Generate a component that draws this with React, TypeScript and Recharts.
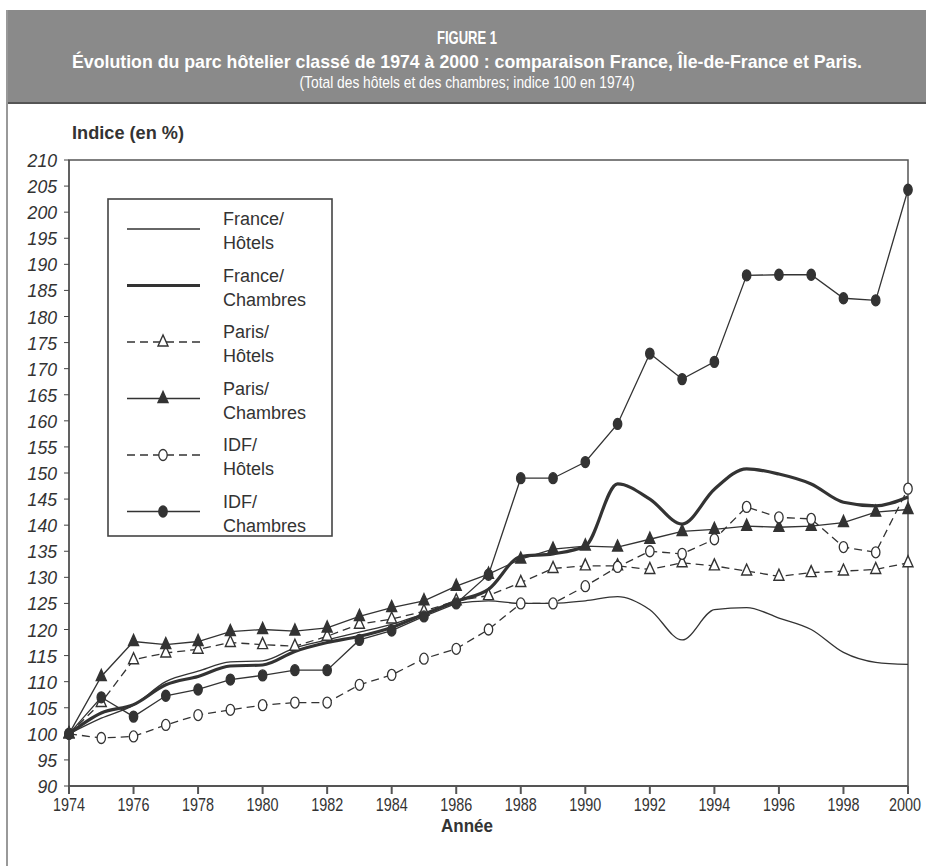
import React from 'react';
import { LineChart, Line, XAxis, YAxis, Legend, ReferenceArea } from 'recharts';

const years = [1974, 1975, 1976, 1977, 1978, 1979, 1980, 1981, 1982, 1983, 1984, 1985, 1986, 1987,
  1988, 1989, 1990, 1991, 1992, 1993, 1994, 1995, 1996, 1997, 1998, 1999, 2000];

const franceHotels = [100, 103, 105.5, 110, 112, 113.8, 114, 116.5, 118, 119.5, 121, 123, 125, 125.5,
  125, 125, 125.5, 126.3, 123.8, 118, 123.8, 124.2, 122.2, 120, 115.6, 113.7, 113.3];
const franceChambres = [100, 104, 105.6, 109.4, 111, 113, 113.2, 115.8, 117.5, 118.7, 120.4, 122.9, 125.4, 127.7,
  134, 134.5, 136, 147.9, 145, 140.2, 146.9, 150.8, 149.8, 147.9, 144.4, 143.7, 145.4];
const parisHotels = [100, 106, 114.2, 115.5, 116.2, 117.5, 117.1, 116.8, 118.7, 121, 122, 123.5, 125.5, 126.5,
  129, 131.7, 132.2, 132.2, 131.5, 132.8, 132.2, 131.2, 130.2, 130.9, 131.2, 131.5, 132.8];
const parisChambres = [100, 111, 117.7, 117.1, 117.7, 119.6, 120, 119.7, 120.3, 122.5, 124.2, 125.5, 128.3, 130.6,
  133.5, 135.4, 136, 135.8, 137.3, 138.8, 139.2, 139.8, 139.6, 139.8, 140.5, 142.5, 143];
const idfHotels = [100, 99.2, 99.5, 101.7, 103.6, 104.6, 105.5, 106, 106, 109.4, 111.3, 114.4, 116.3, 120,
  125, 125, 128.3, 132, 135, 134.5, 137.3, 143.5, 141.5, 141.2, 135.8, 134.8, 147];
const idfChambres = [100, 107, 103.3, 107.3, 108.5, 110.4, 111.2, 112.2, 112.2, 118, 119.8, 122.5, 125, 130.5,
  149, 149, 152.1, 159.4, 172.9, 168, 171.3, 187.9, 188, 188, 183.5, 183.1, 204.3];

const xTicks = [1974, 1976, 1978, 1980, 1982, 1984, 1986, 1988, 1990, 1992, 1994, 1996, 1998, 2000];
const yTicks = [90, 95, 100, 105, 110, 115, 120, 125, 130, 135, 140, 145, 150, 155, 160, 165, 170,
  175, 180, 185, 190, 195, 200, 205, 210];

const data = years.map((year, i) => ({
  year,
  franceHotels: franceHotels[i],
  franceChambres: franceChambres[i],
  parisHotels: parisHotels[i],
  parisChambres: parisChambres[i],
  idfHotels: idfHotels[i],
  idfChambres: idfChambres[i],
}));

const INK = '#333';
const SANS = '"Liberation Sans", Arial, sans-serif';

// marker shapes
const Tri = ({ cx, cy, filled }: any) => (
  <polygon
    points={`${cx},${cy - 7} ${cx - 5},${cy + 4} ${cx + 5},${cy + 4}`}
    fill={filled ? INK : '#fff'}
    stroke={INK}
    strokeWidth={1.4}
  />
);
const Oval = ({ cx, cy, filled }: any) => (
  <ellipse cx={cx} cy={cy} rx={4.2} ry={5.5} fill={filled ? INK : '#fff'} stroke={INK} strokeWidth={1.3} />
);

const series = [
  { key: 'franceHotels', name: ['France/', 'Hôtels'], width: 1.3, dash: undefined, marker: null, filled: false },
  { key: 'franceChambres', name: ['France/', 'Chambres'], width: 3.2, dash: undefined, marker: null, filled: false },
  { key: 'parisHotels', name: ['Paris/', 'Hôtels'], width: 1.3, dash: '8 5', marker: 'tri', filled: false },
  { key: 'parisChambres', name: ['Paris/', 'Chambres'], width: 1.3, dash: undefined, marker: 'tri', filled: true },
  { key: 'idfHotels', name: ['IDF/', 'Hôtels'], width: 1.3, dash: '8 5', marker: 'oval', filled: false },
  { key: 'idfChambres', name: ['IDF/', 'Chambres'], width: 1.3, dash: undefined, marker: 'oval', filled: true },
];

const renderMarker = (s: any) => (p: any) => {
  if (p.cx == null || p.cy == null) return <g key={p.index} />;
  const Shape = s.marker === 'tri' ? Tri : Oval;
  return <Shape key={p.index} cx={p.cx} cy={p.cy} filled={s.filled} />;
};

// condensed-looking tick labels
const XTick = ({ x, y, payload }: any) => {
  const last = payload.value === 2000;
  return (
    <text x={last ? x - 3 : x} y={y} dy={15} textAnchor="middle" fontFamily={SANS} fontSize={19} fill={INK}
      textLength={32} lengthAdjust="spacingAndGlyphs">{payload.value}</text>
  );
};
const YTick = ({ x, y, payload }: any) => {
  const s = String(payload.value);
  return (
    <text x={x} y={y} dy={7} textAnchor="end" fontFamily={SANS} fontStyle="italic" fontSize={19} fill={INK}
      textLength={s.length * 9.8} lengthAdjust="spacingAndGlyphs">{s}</text>
  );
};

const LegendBox = () => (
  <svg width={226} height={340}>
    <rect x={1} y={1} width={224} height={337} fill="#fff" stroke="#444" strokeWidth={1.6} />
    {series.map((s, i) => {
      const y = 31 + i * 56.5;
      return (
        <g key={s.key}>
          <line x1={20} x2={93} y1={y} y2={y} stroke={INK} strokeWidth={s.width} strokeDasharray={s.dash} />
          {s.marker === 'tri' && <Tri cx={56} cy={y} filled={s.filled} />}
          {s.marker === 'oval' && <Oval cx={56} cy={y} filled={s.filled} />}
          <text x={116} y={y - 4} fontFamily={SANS} fontSize={18} fill={INK}>{s.name[0]}</text>
          <text x={116} y={y + 20} fontFamily={SANS} fontSize={18} fill={INK}>{s.name[1]}</text>
        </g>
      );
    })}
  </svg>
);

export default function App() {
  return (
    <div style={{ position: 'absolute', left: 0, top: 0, width: 926, height: 866, background: '#fff', overflow: 'hidden' }}>
      {/* header band */}
      <svg width={926} height={110} style={{ position: 'absolute', left: 0, top: 0 }}>
        <rect x={6} y={10} width={920} height={93} fill="#8a8a8a" />
        <line x1={6} x2={926} y1={103} y2={103} stroke="#555" strokeWidth={2} />
        <text x={467} y={44} textAnchor="middle" fontFamily={SANS} fontWeight="bold" fontSize={19}
          fill="#fff" textLength={60} lengthAdjust="spacingAndGlyphs">FIGURE 1</text>
        <text x={467} y={68} textAnchor="middle" fontFamily={SANS} fontWeight="bold" fontSize={19}
          fill="#fff" textLength={790} lengthAdjust="spacingAndGlyphs">
          Évolution du parc hôtelier classé de 1974 à 2000 : comparaison France, Île-de-France et Paris.
        </text>
        <text x={467} y={88} textAnchor="middle" fontFamily={SANS} fontSize={17}
          fill="#fff" textLength={335} lengthAdjust="spacingAndGlyphs">
          (Total des hôtels et des chambres; indice 100 en 1974)
        </text>
      </svg>
      <div style={{ position: 'absolute', left: 6, top: 10, width: 2, height: 856, background: '#999' }} />
      <svg width={926} height={866} style={{ position: 'absolute', left: 0, top: 0, pointerEvents: 'none' }}>
        <text x={72} y={139} fontFamily={SANS} fontWeight="bold" fontSize={18} fill={INK}
          textLength={112} lengthAdjust="spacingAndGlyphs">Indice (en %)</text>
        <text x={467} y={832} textAnchor="middle" fontFamily={SANS} fontWeight="bold" fontSize={19} fill={INK}
          textLength={52} lengthAdjust="spacingAndGlyphs">Année</text>
      </svg>
      <div style={{ position: 'absolute', left: 0, top: 0 }}>
        <LineChart width={926} height={866} data={data} margin={{ top: 160, right: 18, bottom: 50, left: 0 }}>
          <ReferenceArea x1={1974} x2={2000} y1={90} y2={210} fill="none" stroke="#555" strokeWidth={1.5} />
          <XAxis
            dataKey="year"
            type="number"
            domain={[1974, 2000]}
            ticks={xTicks}
            height={30}
            tickSize={8}
            tickMargin={2}
            stroke="#555"
            strokeWidth={2}
            tick={<XTick />}
          />
          <YAxis
            type="number"
            domain={[90, 210]}
            ticks={yTicks}
            interval={0}
            width={69}
            tickSize={5}
            tickMargin={7}
            stroke="#444"
            tick={<YTick />}
          />
          <Legend
            layout="horizontal"
            align="center"
            verticalAlign="middle"
            content={() => <LegendBox />}
            wrapperStyle={{ left: 107, top: 198, width: 226, height: 340 }}
          />
          {series.map((s) => (
            <Line
              key={s.key}
              dataKey={s.key}
              name={s.name.join('')}
              type={s.marker ? 'linear' : 'monotone'}
              stroke={INK}
              strokeWidth={s.width}
              strokeDasharray={s.dash}
              dot={s.marker ? renderMarker(s) : false}
              activeDot={false}
              isAnimationActive={false}
            />
          ))}
        </LineChart>
      </div>
    </div>
  );
}
